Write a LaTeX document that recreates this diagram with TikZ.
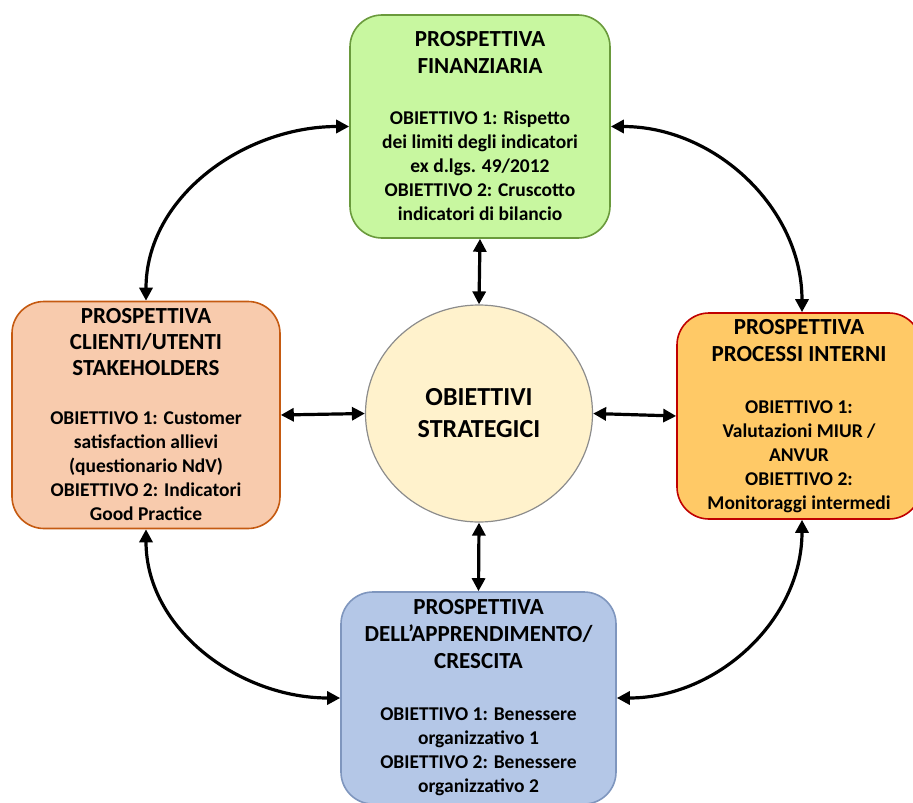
\documentclass[tikz,border=0pt]{standalone}
\usepackage{fontspec}
\setmainfont{Carlito}
\usetikzlibrary{arrows.meta,shapes.geometric}

\definecolor{finfill}{HTML}{C8F7A0}
\definecolor{finline}{HTML}{6A9A3C}
\definecolor{clifill}{HTML}{F8CBAD}
\definecolor{cliline}{HTML}{C55A11}
\definecolor{procfill}{HTML}{FFC966}
\definecolor{procline}{HTML}{C00000}
\definecolor{appfill}{HTML}{B4C7E7}
\definecolor{appline}{HTML}{7F96BE}
\definecolor{objfill}{HTML}{FFF2CC}
\definecolor{objline}{HTML}{8C8C8C}

\newcommand\hd[1]{{\fontsize{23}{27}\selectfont #1}}

\begin{document}
\begin{tikzpicture}[x=1pt,y=-1pt,
    box/.style={draw, line width=1.6pt, rounded corners=32pt, align=center, inner sep=0pt,
        font=\fontsize{19.5}{24}\selectfont\bfseries},
    link/.style={line width=3.2pt, {Triangle[length=13pt,width=13pt]}-{Triangle[length=13pt,width=13pt]}}]

    \useasboundingbox (0,0) rectangle (913,803);

    %draw perspectives:
    \node[box, fill=finfill, draw=finline, minimum width=260pt, minimum height=223pt] (fin) at (480,126.5)
        {\hd{PROSPETTIVA}\\[3pt]\hd{FINANZIARIA}\\[27pt]OBIETTIVO 1: Rispetto\\dei limiti degli indicatori\\ex d.lgs. 49/2012\\OBIETTIVO 2: Cruscotto\\indicatori di bilancio};
    \node[box, fill=clifill, draw=cliline, minimum width=268pt, minimum height=227pt] (cli) at (146,415)
        {\hd{PROSPETTIVA}\\[2pt]\hd{CLIENTI/UTENTI}\\[2pt]\hd{STAKEHOLDERS}\\[25pt]OBIETTIVO 1: Customer\\satisfaction allievi\\(questionario NdV)\\OBIETTIVO 2: Indicatori\\Good Practice};
    \node[box, fill=procfill, draw=procline, minimum width=244pt, minimum height=206pt] (proc) at (799,416)
        {\hd{PROSPETTIVA}\\[3pt]\hd{PROCESSI INTERNI}\\[28pt]OBIETTIVO 1:\\Valutazioni MIUR /\\ANVUR\\OBIETTIVO 2:\\Monitoraggi intermedi};
    \node[box, fill=appfill, draw=appline, minimum width=275pt, minimum height=212pt] (app) at (478.5,698)
        {\hd{PROSPETTIVA}\\[3pt]\hd{DELL’APPRENDIMENTO/}\\[3pt]\hd{CRESCITA}\\[28pt]OBIETTIVO 1: Benessere\\organizzativo 1\\OBIETTIVO 2: Benessere\\organizzativo 2};

    %draw centre:
    \node[ellipse, draw=objline, line width=1.2pt, fill=objfill, minimum width=227pt, minimum height=217pt,
        align=center, font=\fontsize{26}{32}\selectfont\bfseries] (obj) at (479,413.5) {OBIETTIVI\\STRATEGICI};

    %draw links:
    \draw[link] (fin.south) -- (obj.north);
    \draw[link] (obj.south) -- (app.north);
    \draw[link] (cli.east) -- (obj.west);
    \draw[link] (obj.east) -- (proc.west);

    \draw[link] (fin.west) to[out=180,in=90] (cli.north);
    \draw[link] (fin.east) to[out=0,in=90] ([xshift=3pt]proc.north);
    \draw[link] (cli.south) to[out=-90,in=180] (app.west);
    \draw[link] ([xshift=3pt]proc.south) to[out=-90,in=0] (app.east);

\end{tikzpicture}
\end{document}
